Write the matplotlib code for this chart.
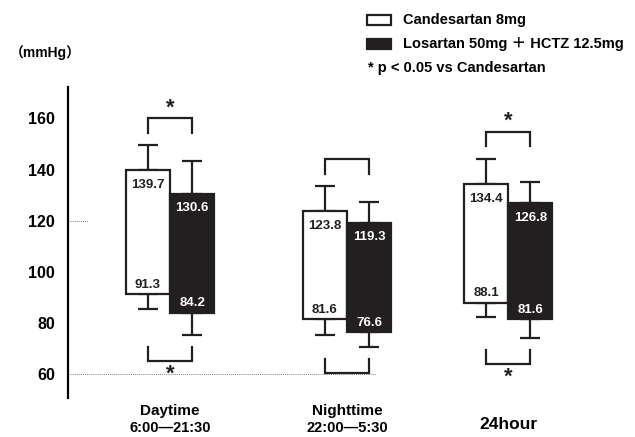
"""Ambulatory BP floating bars: Candesartan vs Losartan + HCTZ."""

import matplotlib

matplotlib.use("Agg")

import matplotlib.pyplot as plt
from matplotlib.patches import Rectangle

plt.rcParams["font.family"] = ["Liberation Sans", "Noto Sans CJK JP"]
plt.rcParams["font.weight"] = "bold"

periods = ["Daytime", "Nighttime", "24hour"]
period_hours = ["6:00\u201421:30", "22:00\u20145:30", ""]
group_pos = [1.0, 2.0, 2.91]

cand_sys = [139.7, 123.8, 134.4]
cand_dia = [91.3, 81.6, 88.1]
cand_sys_sd = [9.8, 9.7, 9.9]
cand_dia_sd = [5.8, 6.1, 5.5]

los_sys = [130.6, 119.3, 126.8]
los_dia = [84.2, 76.6, 81.6]
los_sys_sd = [12.9, 8.2, 8.5]
los_dia_sd = [8.6, 5.7, 7.2]

sig_sys = [True, False, True]
sig_dia = [True, False, True]

yticks = [60, 80, 100, 120, 140, 160]

BLACK = "#231f20"
BAR_W = 0.25

fig = plt.figure(figsize=(6.35, 4.37), dpi=100)
ax = fig.add_axes([68 / 635, 1 - 398 / 437, 1 - 68 / 635, (398 - 87) / 437])
ax.set_xlim(0.4237, 3.627)
ax.set_ylim(50.8, 172.3)

for spine in ("top", "right", "bottom"):
    ax.spines[spine].set_visible(False)
ax.spines["left"].set_linewidth(1.6)
ax.set_xticks([])
ax.set_yticks(yticks)
ax.tick_params(axis="y", length=0, pad=9.5, labelsize=11.5)
for label in ax.get_yticklabels():
    label.set_fontweight("bold")

# reference dotted lines
ax.plot([0.4237, 2.158], [60, 60], ls=(0, (1, 1.5)), lw=0.6, color="#555555",
        zorder=1)
ax.plot([0.4237, 0.537], [120, 120], ls=(0, (1, 1.5)), lw=0.6, color="#555555",
        zorder=1)

series = [
    (cand_sys, cand_dia, cand_sys_sd, cand_dia_sd, -BAR_W / 2, "white", BLACK),
    (los_sys, los_dia, los_sys_sd, los_dia_sd, BAR_W / 2, BLACK, "white"),
]
for sys_v, dia_v, sys_sd, dia_sd, shift, face, text_color in series:
    xs = [g + shift for g in group_pos]
    heights = [s - d for s, d in zip(sys_v, dia_v)]
    ax.bar(xs, heights, bottom=dia_v, width=BAR_W, color=face,
           edgecolor=BLACK, linewidth=1.6, zorder=3)
    ax.errorbar(xs, sys_v, yerr=[[0] * 3, sys_sd], fmt="none", ecolor=BLACK,
                elinewidth=1.6, capsize=7.5, capthick=1.6, zorder=2)
    ax.errorbar(xs, dia_v, yerr=[dia_sd, [0] * 3], fmt="none", ecolor=BLACK,
                elinewidth=1.6, capsize=7.5, capthick=1.6, zorder=2)
    for x, s, d in zip(xs, sys_v, dia_v):
        ax.annotate(f"{s:.1f}", (x, s), xytext=(0, -10.5),
                    textcoords="offset points", ha="center", va="center",
                    fontsize=9.5, fontweight="bold", color=text_color, zorder=4)
        ax.annotate(f"{d:.1f}", (x, d), xytext=(0, 6.5),
                    textcoords="offset points", ha="center", va="center",
                    fontsize=9.5, fontweight="bold", color=text_color, zorder=4)


def bracket(x0, x1, leg, level, star, star_y):
    ax.plot([x0, x0, x1, x1], [leg, level, level, leg], color=BLACK, lw=1.6,
            solid_joinstyle="miter", clip_on=False, zorder=3)
    if star:
        ax.text((x0 + x1) / 2, star_y, "*", ha="center", va="center",
                fontsize=16, fontweight="bold", color=BLACK, clip_on=False)


for i, g in enumerate(group_pos):
    x0, x1 = g - BAR_W / 2, g + BAR_W / 2
    top = max(cand_sys[i] + cand_sys_sd[i], los_sys[i] + los_sys_sd[i])
    bracket(x0, x1, top + 5.0, top + 10.5, sig_sys[i], top + 14.5)
    low = min(cand_dia[i] - cand_dia_sd[i], los_dia[i] - los_dia_sd[i])
    bracket(x0, x1, low - 5.0, low - 10.5, sig_dia[i], low - 15.5)

# category labels
for g, name, hours in zip(group_pos, periods, period_hours):
    if hours:
        ax.text(g, 45.6, name, ha="center", va="center", fontsize=11,
                fontweight="bold", clip_on=False)
        ax.text(g, 38.9, hours, ha="center", va="center", fontsize=10.5,
                fontweight="bold", clip_on=False)
    else:
        ax.text(g, 40.3, name, ha="center", va="center", fontsize=12.5,
                fontweight="bold", clip_on=False)

fig.text(10 / 635, 1 - 53 / 437, "\uff08mmHg\uff09", ha="left", va="center",
         fontsize=10, fontweight="bold")

# legend
fig.add_artist(Rectangle((367 / 635, 1 - 25 / 437), 24 / 635, 10 / 437,
                         transform=fig.transFigure, facecolor="white",
                         edgecolor=BLACK, linewidth=1.6))
fig.add_artist(Rectangle((367 / 635, 1 - 49 / 437), 24 / 635, 10 / 437,
                         transform=fig.transFigure, facecolor=BLACK,
                         edgecolor=BLACK, linewidth=1.6))
fig.text(403 / 635, 1 - 20 / 437, "Candesartan 8mg", ha="left", va="center",
         fontsize=10.5, fontweight="bold")
fig.text(403 / 635, 1 - 44 / 437, "Losartan 50mg \uff0b HCTZ 12.5mg",
         ha="left", va="center", fontsize=10.5, fontweight="bold")
fig.text(368 / 635, 1 - 68 / 437, "* p < 0.05 vs Candesartan", ha="left",
         va="center", fontsize=10.5, fontweight="bold")

fig.savefig("out.png", dpi=100)
